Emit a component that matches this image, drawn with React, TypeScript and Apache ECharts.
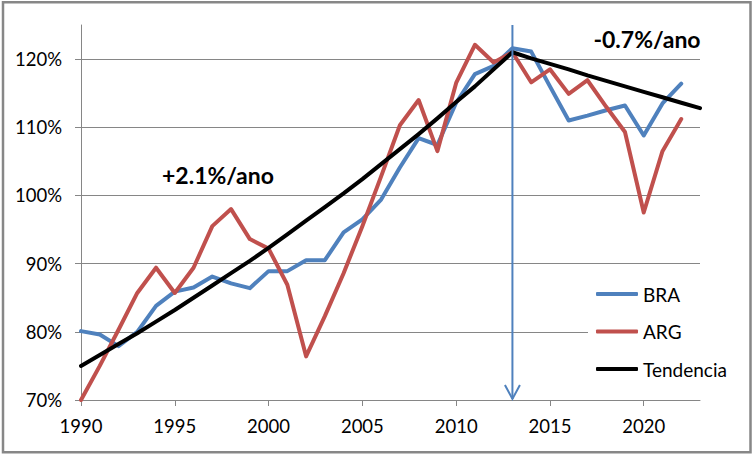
import React, { useEffect, useRef } from 'react';
import * as echarts from 'echarts';

const years = [1990, 1991, 1992, 1993, 1994, 1995, 1996, 1997, 1998, 1999, 2000, 2001, 2002, 2003, 2004, 2005, 2006, 2007, 2008, 2009, 2010, 2011, 2012, 2013, 2014, 2015, 2016, 2017, 2018, 2019, 2020, 2021, 2022];
const trendYears = [1990, 1991, 1992, 1993, 1994, 1995, 1996, 1997, 1998, 1999, 2000, 2001, 2002, 2003, 2004, 2005, 2006, 2007, 2008, 2009, 2010, 2011, 2012, 2013, 2014, 2015, 2016, 2017, 2018, 2019, 2020, 2021, 2022, 2023];

const bra = [80.1, 79.6, 77.9, 80.0, 83.8, 85.9, 86.5, 88.1, 87.1, 86.4, 88.9, 88.9, 90.5, 90.5, 94.6, 96.5, 99.4, 104.1, 108.4, 107.4, 113.6, 117.8, 119.0, 121.6, 121.1, 116.0, 111.0, 111.7, 112.5, 113.2, 108.8, 113.5, 116.4];
const arg = [70.0, 75.0, 80.3, 85.7, 89.4, 85.7, 89.4, 95.5, 98.0, 93.6, 92.2, 86.9, 76.4, 82.3, 88.6, 95.5, 102.8, 110.3, 114.0, 106.5, 116.5, 122.1, 119.5, 121.0, 116.6, 118.5, 114.9, 116.9, 113.0, 109.3, 97.5, 106.5, 111.2];
const tendencia = [75.0, 76.6, 78.2, 79.8, 81.5, 83.2, 85.0, 86.8, 88.6, 90.4, 92.3, 94.3, 96.3, 98.3, 100.3, 102.4, 104.6, 106.8, 109.0, 111.3, 113.7, 116.0, 118.5, 121.0, 120.1, 119.3, 118.5, 117.6, 116.8, 116.0, 115.2, 114.4, 113.6, 112.8];

const xTickLabels = [1990, 1995, 2000, 2005, 2010, 2015, 2020];
const yTickLabels = [70, 80, 90, 100, 110, 120];
const arrowYear = 2013;
const annotations = ['+2.1%/ano', '-0.7%/ano'];
const seriesNames = ['BRA', 'ARG', 'Tendencia'];

export default function App() {
  const ref = useRef<HTMLDivElement>(null);
  useEffect(() => {
    document.body.style.margin = '0';
    const chart = echarts.init(ref.current as HTMLDivElement, null, { renderer: 'svg' });
    const grey = '#868686';
    const font = 'Lato';
    chart.setOption({
      animation: false,
      backgroundColor: '#ffffff',
      textStyle: { fontFamily: font },
      grid: { left: 81, top: 25, right: 54, bottom: 54, containLabel: false, outerBoundsMode: 'none' },
      xAxis: {
        type: 'value',
        min: 1990,
        max: 2023,
        interval: 5,
        axisLine: { show: true, lineStyle: { color: grey, width: 1 } },
        axisTick: { show: true, length: 6, inside: false, customValues: xTickLabels, lineStyle: { color: grey } },
        axisLabel: {
          customValues: xTickLabels,
          color: '#000',
          fontSize: 18.5,
          fontFamily: font,
          margin: 16,
          formatter: (v: number) => String(v),
        },
        splitLine: { show: false },
      },
      yAxis: {
        type: 'value',
        min: 70,
        max: 125,
        interval: 10,
        axisLine: { show: true, lineStyle: { color: grey, width: 1 } },
        axisTick: { show: true, length: 6, inside: false, customValues: yTickLabels, lineStyle: { color: grey } },
        axisLabel: {
          customValues: yTickLabels,
          color: '#000',
          fontSize: 18.5,
          fontFamily: font,
          margin: 19,
          formatter: (v: number) => v + '%',
        },
        splitLine: { show: true, lineStyle: { color: grey, width: 1 } },
      },
      legend: {
        orient: 'vertical',
        left: 588,
        top: 278,
        padding: [6, 14, 8, 8],
        backgroundColor: '#ffffff',
        itemWidth: 42,
        itemHeight: 4,
        itemGap: 17.5,
        itemTextGap: 3,
        icon: 'roundRect',
        textStyle: { fontSize: 19, color: '#000', fontFamily: font, lineHeight: 20 },
        data: seriesNames,
      },
      series: [
        {
          name: seriesNames[0],
          type: 'line',
          data: years.map((y, i) => [y, bra[i]]),
          symbol: 'none',
          showSymbol: false,
          lineStyle: { color: '#4F81BD', width: 4, cap: 'round', join: 'round' },
          itemStyle: { color: '#4F81BD' },
          z: 3,
        },
        {
          name: seriesNames[1],
          type: 'line',
          data: years.map((y, i) => [y, arg[i]]),
          symbol: 'none',
          showSymbol: false,
          lineStyle: { color: '#C0504D', width: 4, cap: 'round', join: 'round' },
          itemStyle: { color: '#C0504D' },
          z: 4,
        },
        {
          name: seriesNames[2],
          type: 'line',
          data: trendYears.map((y, i) => [y, tendencia[i]]),
          symbol: 'none',
          showSymbol: false,
          lineStyle: { color: '#000000', width: 4, cap: 'round', join: 'round' },
          itemStyle: { color: '#000000' },
          z: 5,
        },
        {
          type: 'custom',
          silent: true,
          z: 6,
          data: [[arrowYear, 125, 70]],
          encode: { x: 0, y: [1, 2] },
          renderItem: (params: any, api: any) => {
            const top = api.coord([api.value(0), api.value(1)]);
            const bot = api.coord([api.value(0), api.value(2)]);
            return {
              type: 'group',
              children: [
                {
                  type: 'line',
                  shape: { x1: top[0], y1: top[1], x2: bot[0], y2: bot[1] - 1 },
                  style: { stroke: '#4F81BD', lineWidth: 2 },
                },
                {
                  type: 'polyline',
                  shape: { points: [[bot[0] - 7.5, bot[1] - 15], [bot[0], bot[1] - 1], [bot[0] + 7.5, bot[1] - 15]] },
                  style: { stroke: '#4F81BD', lineWidth: 2, fill: null },
                },
              ],
            };
          },
        },
      ],
      graphic: [
        {
          type: 'rect',
          silent: true,
          z: 100,
          shape: { x: 3, y: 2.25, width: 747.5, height: 450 },
          style: { fill: 'none', stroke: '#878787', lineWidth: 2.5 },
        },
        {
          type: 'text',
          x: 218,
          y: 175,
          z: 50,
          style: { text: annotations[0], fontSize: 23, fontWeight: 'bold', fontFamily: font, fill: '#000', align: 'center', verticalAlign: 'middle' },
        },
        {
          type: 'text',
          x: 647,
          y: 39,
          z: 50,
          style: { text: annotations[1], fontSize: 23, fontWeight: 'bold', fontFamily: font, fill: '#000', align: 'center', verticalAlign: 'middle' },
        },
      ],
    });
    return () => chart.dispose();
  }, []);
  return <div ref={ref} style={{ width: 754, height: 454 }} />;
}
